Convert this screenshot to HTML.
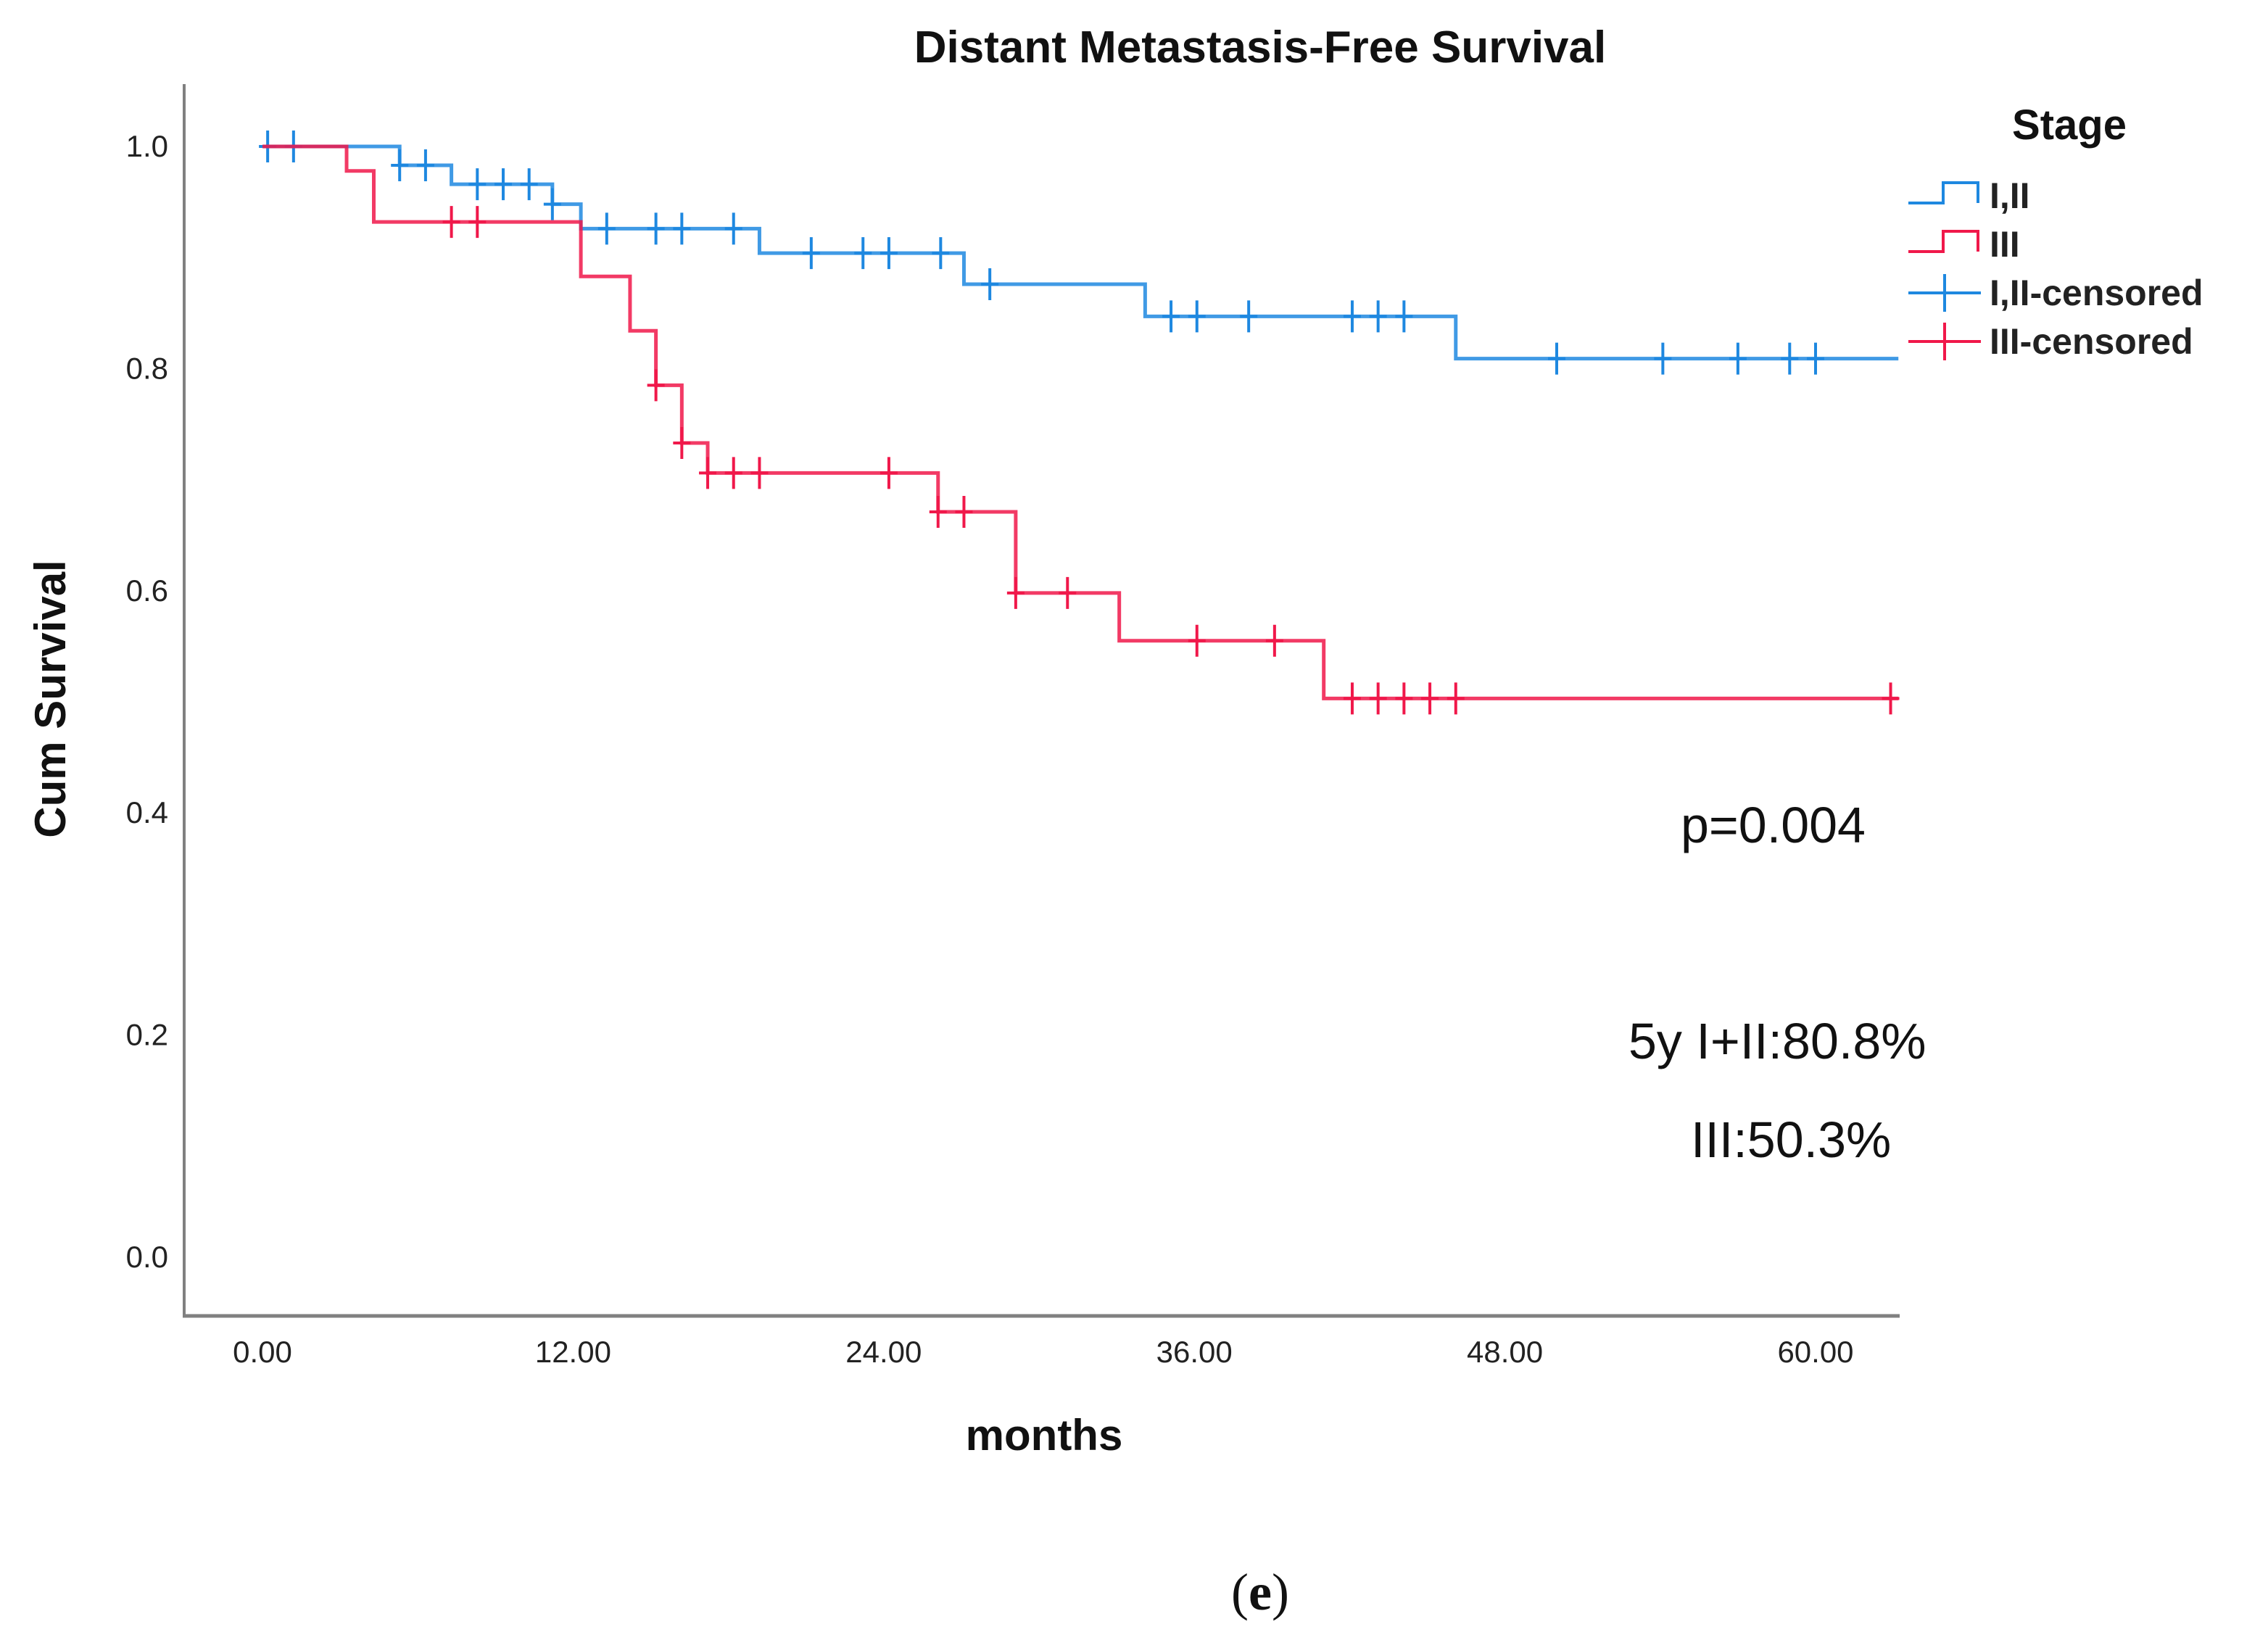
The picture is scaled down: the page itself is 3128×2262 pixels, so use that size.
<!DOCTYPE html>
<html><head><meta charset="utf-8"><style>
html,body{margin:0;padding:0;background:#fff;}
svg{display:block;font-family:"Liberation Sans",sans-serif;}
</style></head><body>
<svg id="chart" width="3128" height="2262" viewBox="0 0 3128 2262" xmlns="http://www.w3.org/2000/svg">
<text x="1738" y="86" text-anchor="middle" font-size="62" font-weight="bold" fill="#111">Distant Metastasis-Free Survival</text>
<g id="axes"></g>
<g id="series"></g>
<text transform="translate(90,964) rotate(-90)" text-anchor="middle" font-size="60" font-weight="bold" fill="#111">Cum Survival</text>
<text x="1440" y="2000" text-anchor="middle" font-size="60" font-weight="bold" fill="#111">months</text>
<text x="2318" y="1162" font-size="70" fill="#111">p=0.004</text>
<text x="2246" y="1460" font-size="70" fill="#111">5y I+II:80.8%</text>
<text x="2332" y="1596" font-size="70" fill="#111">III:50.3%</text>
<text x="1738" y="2220" text-anchor="middle" font-size="72" font-family="Liberation Serif, serif" fill="#111">(<tspan font-weight="bold">e</tspan>)</text>
<g id="legend">
<text x="2854" y="192" text-anchor="middle" font-size="58" font-weight="bold" fill="#111">Stage</text>
</g>
</svg>
<script>
const xTicks = [0, 12, 24, 36, 48, 60];
const xTickLabels = ["0.00", "12.00", "24.00", "36.00", "48.00", "60.00"];
const yTicks = [0, 0.2, 0.4, 0.6, 0.8, 1.0];
const yTickLabels = ["0.0", "0.2", "0.4", "0.6", "0.8", "1.0"];
const seriesNames = ["I,II", "III"];
const blueStepTimes = [0, 5.3, 7.3, 11.2, 12.3, 19.2, 27.1, 34.1, 46.1];
const blueStepValues = [1.0, 0.983, 0.966, 0.948, 0.926, 0.904, 0.876, 0.847, 0.809];
const blueEnd = 63.2;
const blueCensored = [0.2, 1.2, 5.3, 6.3, 8.3, 9.3, 10.3, 11.2, 13.3, 15.2, 16.2, 18.2, 21.2, 23.2, 24.2, 26.2, 28.1, 35.1, 36.1, 38.1, 42.1, 43.1, 44.1, 50.0, 54.1, 57.0, 59.0, 60.0];
const redStepTimes = [0, 3.25, 4.3, 12.3, 14.2, 15.2, 16.2, 17.2, 26.1, 29.1, 33.1, 41.0];
const redStepValues = [1.0, 0.978, 0.932, 0.883, 0.834, 0.785, 0.733, 0.706, 0.671, 0.598, 0.555, 0.503];
const redEnd = 63.2;
const redCensored = [7.3, 8.3, 15.2, 16.2, 17.2, 18.2, 19.2, 24.2, 26.1, 27.1, 29.1, 31.1, 36.1, 39.1, 42.1, 43.1, 44.1, 45.1, 46.1, 62.9];

const NS = "http://www.w3.org/2000/svg";
const X0 = 362, PXM = 35.7, Y0 = 1734, PXV = 1532;
function xs(t){ return X0 + t * PXM; }
function ys(v){ return Y0 - v * PXV; }
function mk(tag, attrs, parent){
  const e = document.createElementNS(NS, tag);
  for (const k in attrs) e.setAttribute(k, attrs[k]);
  parent.appendChild(e); return e;
}
const axes = document.getElementById("axes");
const series = document.getElementById("series");
const legend = document.getElementById("legend");

const yAxis = mk("line", {x1:254, y1:116, x2:254, y2:1815, stroke:"#808080", "stroke-width":4}, axes);


const xAxis = mk("line", {x1:252, y1:1815, x2:2620, y2:1815, stroke:"#808080", "stroke-width":5}, axes);



xTicks.forEach((t, i) => {
  const tx = mk("text", {x: xs(t), y: 1879, "text-anchor":"middle", "font-size":42, fill:"#222"}, axes);
  tx.textContent = xTickLabels[i];
  
  
});
yTicks.forEach((v, i) => {
  const tx = mk("text", {x: 232, y: ys(v) + 14, "text-anchor":"end", "font-size":42, fill:"#222"}, axes);
  tx.textContent = yTickLabels[i];
  
  
});

function stepValue(times, vals, t){
  let v = vals[0];
  for (let i = 0; i < times.length; i++) if (times[i] <= t + 1e-9) v = vals[i];
  return v;
}
function drawSeries(times, vals, end, cens, color, name){
  let d = "M" + xs(times[0]) + " " + ys(vals[0]);
  for (let i = 1; i < times.length; i++){
    d += " H" + xs(times[i]) + " V" + ys(vals[i]);
  }
  d += " H" + xs(end);
  const p = mk("path", {d: d, fill:"none", stroke: color, "stroke-width":5, "stroke-opacity":0.85}, series);
  
  
  cens.forEach(t => {
    const cx = xs(t), cy = ys(stepValue(times, vals, t));
    const g = mk("path", {d: "M" + cx + " " + (cy - 22) + " V" + (cy + 22) + " M" + (cx - 12) + " " + cy + " H" + (cx + 12), stroke: color, "stroke-width":4, fill:"none"}, series);
    
    
  });
}
drawSeries(blueStepTimes, blueStepValues, blueEnd, blueCensored, "#1e88e0", "stage-i-ii");
drawSeries(redStepTimes, redStepValues, redEnd, redCensored, "#f0184a", "stage-iii");

const legendLabels = [seriesNames[0], seriesNames[1], seriesNames[0] + "-censored", seriesNames[1] + "-censored"];
const legendColors = ["#1e88e0", "#f0184a", "#1e88e0", "#f0184a"];
legendLabels.forEach((lab, i) => {
  const cy = 270 + i * 67;
  let ic;
  if (i < 2) {
    ic = mk("path", {d: "M2632 " + (cy + 10) + " H2680 V" + (cy - 18) + " H2728 V" + (cy + 10), fill:"none", stroke: legendColors[i], "stroke-width":4}, legend);
  } else {
    ic = mk("path", {d: "M2632 " + cy + " H2732 M2682 " + (cy - 26) + " V" + (cy + 26), fill:"none", stroke: legendColors[i], "stroke-width":4}, legend);
  }
  
  
  const tx = mk("text", {x: 2744, y: cy + 17, "font-size":50, "font-weight":"bold", fill:"#222"}, legend);
  tx.textContent = lab;
  
  
});
</script>
</body></html>
